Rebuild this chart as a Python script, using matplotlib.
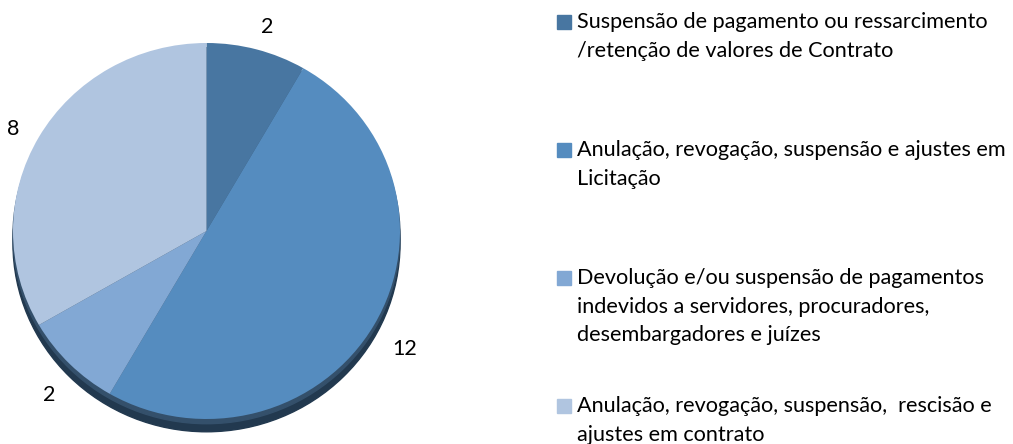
import matplotlib
matplotlib.use("Agg")
import matplotlib.pyplot as plt
from matplotlib.patches import Ellipse, Rectangle

plt.rcParams['font.family'] = ['Lato', 'DejaVu Sans']

values = [2, 12, 2, 8]
colors = ['#4876A1', '#558CBF', '#82A8D4', '#B0C5E0']
legend_lines = [
    ["Suspensão de pagamento ou ressarcimento", "/retenção de valores de Contrato"],
    ["Anulação, revogação, suspensão e ajustes em", "Licitação"],
    ["Devolução e/ou suspensão de pagamentos", "indevidos a servidores, procuradores,", "desembargadores e juízes"],
    ["Anulação, revogação, suspensão,  rescisão e", "ajustes em contrato"],
]

W, H = 1013, 444
fig = plt.figure(figsize=(W / 100, H / 100), dpi=100)

# pie area in pixels: x 13..400, y 43..419 (from top)
left, top, right, bottom = 13, 43, 400, 419
ax = fig.add_axes([left / W, (H - bottom) / H, (right - left) / W, (bottom - top) / H])

# dark 3D edge under the pie
ax.add_patch(Ellipse((0, -0.068), 2, 2, color='#22394F', zorder=0, clip_on=False))
ax.add_patch(Ellipse((0, -0.025), 2, 2, color='#34506b', zorder=0, clip_on=False))

wedges, texts = ax.pie(values, colors=colors, startangle=90, counterclock=False,
                       labels=[str(v) for v in values], labeldistance=1.17,
                       wedgeprops=dict(linewidth=0),
                       textprops=dict(fontsize=15.5, color='black'))
for t in texts:
    x, y = t.get_position()
    t.set_position((x + 0.012, y - 0.043))
    t.set_ha('center')
    t.set_va('center')
    t.set_clip_on(False)
for w in wedges:
    w.set_zorder(2)
ax.set_aspect('auto')
ax.set_xlim(-1, 1)
ax.set_ylim(-1, 1)
ax.axis('off')

# fit legend font so the first line spans ~413 px
probe = fig.text(0, 0, legend_lines[0][0], fontsize=10)
fig.canvas.draw()
wpx = probe.get_window_extent().width
probe.remove()
fs = 10 * 413 / wpx

entry_y = [22, 150, 278, 406]
line_gap = 28.7
for i, lines in enumerate(legend_lines):
    y0 = entry_y[i]
    fig.patches.append(Rectangle((557 / W, (H - y0 - 7) / H), 14 / W, 14 / H,
                                 transform=fig.transFigure, color=colors[i]))
    for j, line in enumerate(lines):
        fig.text(577 / W, (H - y0 - j * line_gap) / H, line, fontsize=fs,
                 ha='left', va='center', color='black')

fig.savefig('out.png', dpi=100)
